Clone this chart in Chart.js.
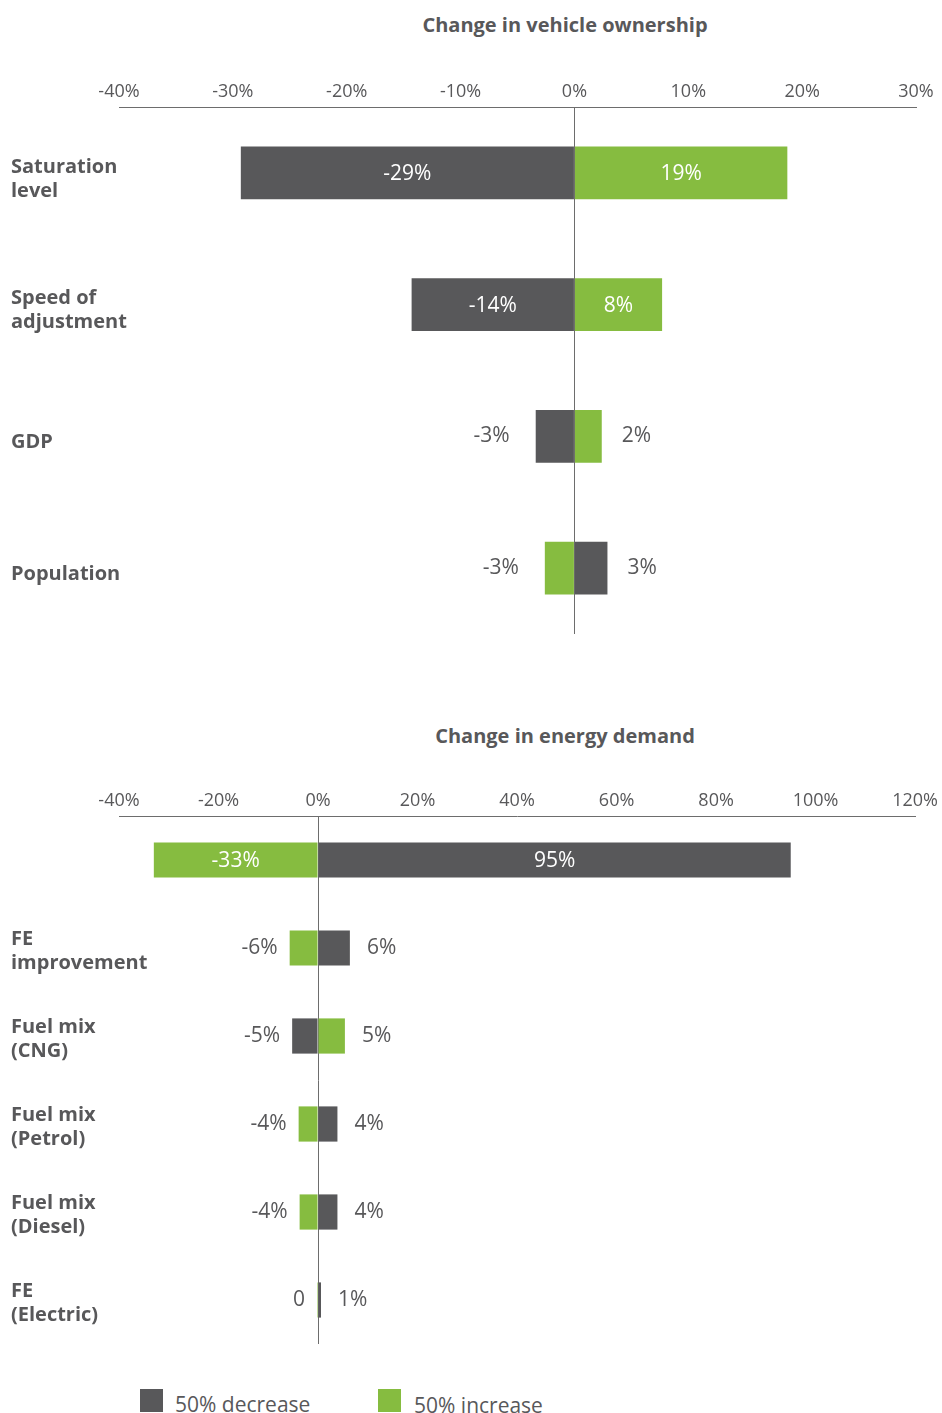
<!DOCTYPE html>
<html>
<head>
<meta charset="utf-8">
<script src="https://cdn.jsdelivr.net/npm/chart.js@4.4.1/dist/chart.umd.min.js"></script>
<style>
  body { margin: 0; background: #fff; font-family: "Open Sans", sans-serif; color: #58585a; }
  #page { position: relative; width: 942px; height: 1413px; overflow: hidden; }
  .title { position: absolute; left: 365px; width: 400px; text-align: center; font-weight: 700; font-size: 20px; line-height: 24px; }
  .box { position: absolute; width: 23px; height: 23px; }
  .key { position: absolute; font-size: 21px; line-height: 28px; }
</style>
</head>
<body>
<div id="page">
  <div class="title" style="top:13px">Change in vehicle ownership</div>
  <div style="position:absolute;left:0;top:0;width:942px;height:660px"><canvas id="vehicleChart"></canvas></div>

  <div class="title" style="top:724px">Change in energy demand</div>
  <div style="position:absolute;left:0;top:660px;width:942px;height:700px"><canvas id="energyChart"></canvas></div>

  <div class="box" style="left:140px;top:1389px;background:#58585a"></div>
  <div class="key" style="left:175px;top:1390px">50% decrease</div>
  <div class="box" style="left:378px;top:1389px;background:#86bc40"></div>
  <div class="key" style="left:414px;top:1391px">50% increase</div>
</div>

<script>
const DARK = "#58585a";
const GREEN = "#86bc40";
const TEXT = "#58585a";

// vehicle ownership (% change)
const vehicleCategories = [["Saturation", "level"], ["Speed of", "adjustment"], "GDP", "Population"];
const vehicleDecrease = [-29.3, -14.3, -3.4, 2.9];
const vehicleIncrease = [18.7, 7.7, 2.4, -2.6];
const vehicleTicks = { min: -40, max: 30, step: 10 };

// energy demand (% change)
const energyCategories = ["", ["FE", "improvement"], ["Fuel mix", "(CNG)"], ["Fuel mix", "(Petrol)"], ["Fuel mix", "(Diesel)"], ["FE", "(Electric)"]];
const energyDecrease = [95, 6.4, -5.2, 3.9, 3.9, 0.6];
const energyIncrease = [-33, -5.7, 5.4, -3.9, -3.7, -0.2];
const energyTicks = { min: -40, max: 120, step: 20 };

const legendLabels = ["50% decrease", "50% increase"];

function fmt(v) {
  const r = Math.round(v);
  return r === 0 ? "0" : r + "%";
}

// value labels: white inside wide bars, grey beside short ones
const barLabels = {
  id: "barLabels",
  afterDatasetsDraw(chart, args, opts) {
    const ctx = chart.ctx;
    ctx.save();
    ctx.font = '400 21px "Open Sans"';
    ctx.textBaseline = "middle";
    chart.data.datasets.forEach((ds, i) => {
      chart.getDatasetMeta(i).data.forEach((bar, j) => {
        const v = ds.data[j];
        const w = Math.abs(bar.x - bar.base);
        if (w > 70) {
          ctx.fillStyle = "#fff";
          ctx.textAlign = "center";
          ctx.fillText(fmt(v), (bar.x + bar.base) / 2, bar.y + 1);
        } else {
          ctx.fillStyle = TEXT;
          if (v < 0) {
            ctx.textAlign = "right";
            ctx.fillText(fmt(v), Math.min(bar.x, bar.base) - opts.negGap, bar.y);
          } else {
            ctx.textAlign = "left";
            ctx.fillText(fmt(v), Math.max(bar.x, bar.base) + opts.posGap, bar.y);
          }
        }
      });
    });
    ctx.restore();
  }
};

function tornado(canvas, categories, decrease, increase, ticks, pad, gaps, labelShift) {
  return new Chart(canvas, {
    type: "bar",
    data: {
      labels: categories,
      datasets: [
        { label: legendLabels[0], data: decrease, backgroundColor: DARK },
        { label: legendLabels[1], data: increase, backgroundColor: GREEN }
      ]
    },
    options: {
      indexAxis: "y",
      responsive: true,
      maintainAspectRatio: false,
      animation: false,
      categoryPercentage: 1,
      barPercentage: 0.4,
      layout: { padding: pad },
      plugins: {
        legend: { display: false },
        tooltip: { enabled: false },
        barLabels: gaps
      },
      scales: {
        x: {
          type: "linear",
          position: "top",
          stacked: true,
          min: ticks.min,
          max: ticks.max,
          afterFit: (s) => { s.height = 30; },
          ticks: {
            stepSize: ticks.step,
            padding: 4,
            color: TEXT,
            font: { family: "Open Sans", size: 18 },
            callback: (v) => v + "%"
          },
          grid: {
            drawTicks: false,
            color: (c) => (c.tick && c.tick.value === 0 ? "#6d6d6d" : "rgba(0,0,0,0)")
          },
          border: { color: "#6d6d6d", width: 1 }
        },
        y: {
          stacked: true,
          afterFit: (s) => { s.width = 108; },
          grid: { display: false },
          border: { display: false },
          ticks: {
            autoSkip: false,
            mirror: true,          // keeps long labels from being clipped to the axis box
            crossAlign: "near",
            padding: -108,
            labelOffset: labelShift,
            color: TEXT,
            font: { family: "Open Sans", size: 20, weight: "700", lineHeight: 1.2 }
          }
        }
      }
    },
    plugins: [barLabels]
  });
}

tornado(document.getElementById("vehicleChart"), vehicleCategories, vehicleDecrease, vehicleIncrease,
  vehicleTicks, { top: 77, left: 11, right: 26, bottom: 26 }, { negGap: 26, posGap: 20 }, 6);

tornado(document.getElementById("energyChart"), energyCategories, energyDecrease, energyIncrease,
  energyTicks, { top: 126, left: 11, right: 26, bottom: 16 }, { negGap: 12, posGap: 17 }, 3);
</script>
</body>
</html>
